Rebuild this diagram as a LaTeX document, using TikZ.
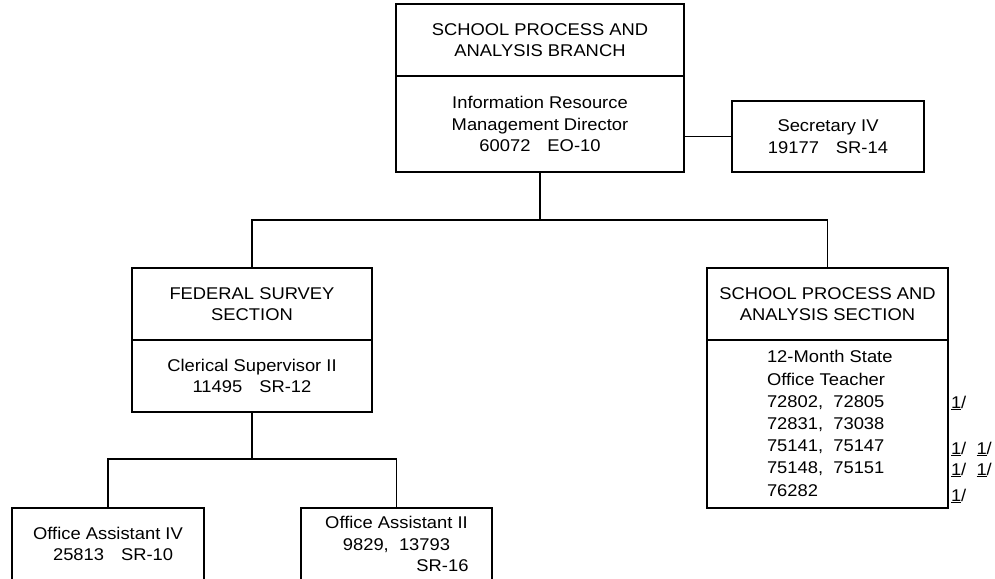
\documentclass[tikz,border=0pt]{standalone}
\usepackage{fontspec}
\setmainfont{Liberation Sans}[FakeStretch=1.08]
\usetikzlibrary{positioning}

\tikzset{
  box/.style={draw, line width=1.8pt, outer sep=0pt, inner sep=0pt, align=center,
    minimum width=#1},
  txt/.style={inner sep=0pt, outer sep=0pt},
  link/.style={line width=1.8pt},
  every node/.style={font=\fontsize{17}{21.5}\selectfont}
}

\begin{document}
\begin{tikzpicture}[x=1pt,y=-1pt]
\clip (0,0) rectangle (995,578);
% branch at the top
\node[box=288pt, minimum height=72pt] (branch) at (540,40) {SCHOOL PROCESS AND\\ANALYSIS BRANCH};
\node[box=288pt, minimum height=96pt, below=0pt of branch] (director) {Information Resource\\Management Director\\60072\quad EO-10};
\node[box=192pt, minimum height=71pt] (secretary) at (828,136.5) {Secretary IV\\19177\quad SR-14};
\draw[link] (secretary.west) -- (secretary.west -| director.east);

% sections
\node[box=240pt, minimum height=72pt] (federal) at (252,304) {FEDERAL SURVEY\\SECTION};
\node[box=240pt, minimum height=72pt, below=0pt of federal] (supervisor) {Clerical Supervisor II\\11495\quad SR-12};
\node[box=241pt, minimum height=72pt] (process) at (827.5,304) {SCHOOL PROCESS AND\\ANALYSIS SECTION};
\node[box=241pt, minimum height=168pt, below=0pt of process] (teacherbox) {};
\node[txt, anchor=west, align=left, font=\fontsize{17}{22.2}\selectfont] (teachers) at (767,423.5)
  {12-Month State\\Office Teacher\\72802,\ \ 72805\\72831,\ \ 73038\\75141,\ \ 75147\\75148,\ \ 75151\\76282};
%footnotes
\node[txt, anchor=west] (note1) at (951,403) {\underline{1}/};
\node[txt, anchor=west] (note2) at (951,449) {\underline{1}/\ \ \underline{1}/};
\node[txt, anchor=west] (note3) at (951,470) {\underline{1}/\ \ \underline{1}/};
\node[txt, anchor=west] (note4) at (951,496) {\underline{1}/};

\coordinate (bus) at (540,220);
\draw[link] (director.south) -- (bus);
\draw[link] (federal.north) |- (bus) -| (process.north);

% office assistants
\node[box=192pt, minimum height=72pt, anchor=north] (assist4) at (108,508) {Office Assistant IV\\\ \ 25813\quad SR-10};
\node[box=191pt, minimum height=72pt, anchor=north] (assist2) at (396.5,508) {Office Assistant II\\9829,\ \ 13793\\\hspace*{92pt}SR-16};
\coordinate (bus2) at (252,459);
\draw[link] (supervisor.south) -- (bus2);
\draw[link] (assist4.north) |- (bus2) -| (assist2.north);
\end{tikzpicture}
\end{document}
